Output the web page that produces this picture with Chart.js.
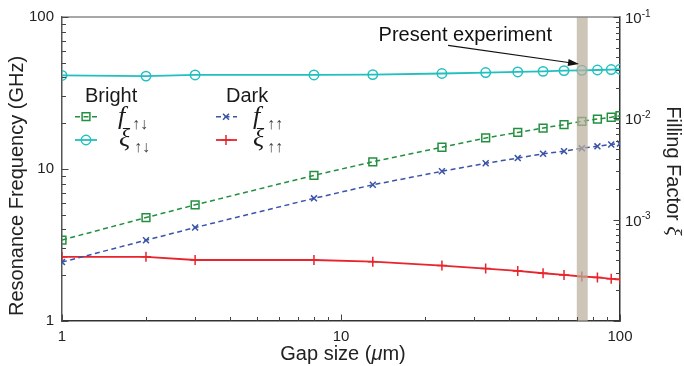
<!DOCTYPE html>
<html><head><meta charset="utf-8">
<script src="https://cdn.jsdelivr.net/npm/chart.js@4.4.1/dist/chart.umd.min.js"></script>
<style>html,body{margin:0;padding:0;background:#fff;}canvas{display:block;}</style>
</head><body>
<canvas id="c" width="684" height="366"></canvas>
<script>
// ---- data ----
const gapSizes = [1, 2, 3, 8, 13, 23, 33, 43, 53, 63, 73, 83, 93, 100];
const fBright  = [3.41, 4.79, 5.81, 9.08, 11.15, 13.9, 16.0, 17.4, 18.6, 19.6, 20.6, 21.3, 21.9, 22.4];
const fDark    = [2.44, 3.40, 4.12, 6.41, 7.87, 9.66, 10.9, 11.8, 12.6, 13.1, 13.7, 14.1, 14.5, 14.7];
const xiBright = [0.0265, 0.0261, 0.0268, 0.0268, 0.0270, 0.0277, 0.0283, 0.0287, 0.0291, 0.0296, 0.0298, 0.0300, 0.0303, 0.0305];
const xiDark   = [4.30e-4, 4.30e-4, 4.00e-4, 4.00e-4, 3.85e-4, 3.52e-4, 3.29e-4, 3.12e-4, 2.96e-4, 2.85e-4, 2.75e-4, 2.69e-4, 2.61e-4, 2.57e-4];
const xTickValues = [1, 10, 100];
const yLeftTickValues = [1, 10, 100];
const yRightTickValues = [1e-1, 1e-2, 1e-3];
const yRightTickExponents = ['-1', '-2', '-3'];
const presentRange = [70, 76.6];

const COL = {green:'#23903f', blue:'#3a54a8', cyan:'#22bfc0', red:'#e8242c'};
const SANS = '"Liberation Sans", Arial, sans-serif';
const SERIF = '"Liberation Serif", "Times New Roman", serif';

function pts(vals){ return gapSizes.map((g,i)=>({x:g, y:vals[i]})); }

function logMarks(min, max){
  const out=[];
  for(let d=Math.floor(Math.log10(min)); d<=Math.ceil(Math.log10(max)); d++){
    for(let m=1;m<10;m++){
      const v=m*Math.pow(10,d);
      if(v>=min*0.9999 && v<=max*1.0001) out.push({v, major:m===1});
    }
  }
  return out;
}

function marker(ctx, style, x, y, r, color, bw){
  ctx.save();
  ctx.strokeStyle=color; ctx.fillStyle='rgba(0,0,0,0)'; ctx.lineWidth=bw; ctx.setLineDash([]);
  Chart.helpers.drawPoint(ctx, {pointStyle:style, radius:r, borderWidth:bw, rotation:0}, x, y);
  ctx.restore();
}
function seg(ctx, x1, x2, y, color, w, dash){
  ctx.save(); ctx.strokeStyle=color; ctx.lineWidth=w; ctx.setLineDash(dash||[]);
  ctx.beginPath(); ctx.moveTo(x1,y); ctx.lineTo(x2,y); ctx.stroke(); ctx.restore();
}

const bandPlugin = {
  id:'band',
  afterDatasetsDraw(chart){
    const {ctx, chartArea:a, scales:{x}} = chart;
    const x1 = x.getPixelForValue(presentRange[0]), x2 = x.getPixelForValue(presentRange[1]);
    ctx.save(); ctx.fillStyle='rgba(184,174,156,0.72)';
    ctx.fillRect(x1, a.top, x2-x1, a.bottom-a.top); ctx.restore();
  }
};

const decorPlugin = {
  id:'decor',
  afterDraw(chart){
    const {ctx, chartArea:a, scales:{x, y, y2}} = chart;
    ctx.save();
    // top frame line
    ctx.strokeStyle='#8a8a8a'; ctx.lineWidth=1.3;
    ctx.beginPath(); ctx.moveTo(a.left, a.top); ctx.lineTo(a.right, a.top); ctx.stroke();
    // inward ticks
    ctx.strokeStyle='#444'; ctx.lineWidth=1;
    logMarks(1,100).forEach(t=>{
      const px=Math.round(x.getPixelForValue(t.v))+0.5, L=t.major?6.5:4;
      ctx.beginPath(); ctx.moveTo(px, a.bottom); ctx.lineTo(px, a.bottom-L); ctx.stroke();
    });
    logMarks(1,100).forEach(t=>{
      const py=Math.round(y.getPixelForValue(t.v))+0.5, L=t.major?6.5:4;
      ctx.beginPath(); ctx.moveTo(a.left, py); ctx.lineTo(a.left+L, py); ctx.stroke();
    });
    logMarks(1e-4,1e-1).forEach(t=>{
      const py=Math.round(y2.getPixelForValue(t.v))+0.5, L=t.major?6.5:4;
      ctx.beginPath(); ctx.moveTo(a.right, py); ctx.lineTo(a.right-L, py); ctx.stroke();
    });
    // right tick labels 10^n
    ctx.fillStyle='#222'; ctx.textBaseline='middle'; ctx.textAlign='left';
    yRightTickValues.forEach((v,i)=>{
      const py=y2.getPixelForValue(v)+2;
      ctx.font='15px '+SANS; ctx.fillText('10', a.right+5, py);
      const w=ctx.measureText('10').width;
      ctx.font='10px '+SANS; ctx.fillText(yRightTickExponents[i], a.right+5+w, py-5);
    });
    // axis titles
    ctx.textBaseline='alphabetic';
    const parts=[['Gap size (', '20px '+SANS],['\u03bc','italic 20px '+SANS],['m)','20px '+SANS]];
    let tw=0; parts.forEach(p=>{ctx.font=p[1]; tw+=ctx.measureText(p[0]).width;});
    let cx=(a.left+a.right)/2 - tw/2 + 2;
    parts.forEach(p=>{ctx.font=p[1]; ctx.fillText(p[0], cx, 360); cx+=ctx.measureText(p[0]).width;});
    ctx.save(); ctx.translate(23, 186); ctx.rotate(-Math.PI/2);
    ctx.font='20px '+SANS; ctx.textAlign='center'; ctx.fillText('Resonance Frequency (GHz)', 0, 0);
    ctx.restore();
    ctx.save(); ctx.translate(666.5, 171); ctx.rotate(Math.PI/2);
    ctx.font='20px '+SANS; const t1='Filling Factor '; const w1=ctx.measureText(t1).width;
    ctx.font='italic 22px '+SERIF; const w2=ctx.measureText('\u03be').width;
    ctx.textAlign='left';
    ctx.font='20px '+SANS; ctx.fillText(t1, -(w1+w2)/2, 0);
    ctx.font='italic 22px '+SERIF; ctx.fillText('\u03be', -(w1+w2)/2+w1, 0);
    ctx.restore();

    // annotation
    ctx.font='20px '+SANS; ctx.textAlign='center'; ctx.fillStyle='#111';
    ctx.fillText('Present experiment', x.getPixelForValue(27.9), y.getPixelForValue(69.9));
    const sx=x.getPixelForValue(24.2), sy=y.getPixelForValue(65.1);
    const tx=x.getPixelForValue(71.3), ty=y.getPixelForValue(49.0);
    const ang=Math.atan2(ty-sy, tx-sx);
    ctx.strokeStyle='#111'; ctx.lineWidth=1.1;
    ctx.beginPath(); ctx.moveTo(sx,sy); ctx.lineTo(tx-9*Math.cos(ang), ty-9*Math.sin(ang)); ctx.stroke();
    ctx.fillStyle='#111'; ctx.beginPath();
    ctx.moveTo(tx,ty);
    ctx.lineTo(tx-11*Math.cos(ang)+3.5*Math.sin(ang), ty-11*Math.sin(ang)-3.5*Math.cos(ang));
    ctx.lineTo(tx-11*Math.cos(ang)-3.5*Math.sin(ang), ty-11*Math.sin(ang)+3.5*Math.cos(ang));
    ctx.closePath(); ctx.fill();

    // legend
    ctx.textAlign='left'; ctx.fillStyle='#1a1a1a';
    ctx.font='20px '+SANS;
    ctx.fillText('Bright', 85, 101.5);
    ctx.fillText('Dark', 226, 101.5);
    seg(ctx, 75, 97, 116.7, COL.green, 1.5, [5,3.5]); marker(ctx,'rect',86,116.7,5.5,COL.green,1.5);
    seg(ctx, 75, 97, 140, COL.cyan, 1.8);            marker(ctx,'circle',86,140,4.7,COL.cyan,1.5);
    seg(ctx, 216, 237, 116.7, COL.blue, 1.5, [5,3.5]); marker(ctx,'crossRot',226,116.7,4.2,COL.blue,1.5);
    seg(ctx, 216, 237, 140, COL.red, 1.8);            marker(ctx,'cross',226,140,5,COL.red,1.5);
    ctx.fillStyle='#1a1a1a';
    ctx.font='italic 26px '+SERIF;
    ctx.fillText('f', 118, 124);
    ctx.fillText('\u03be', 119, 146);
    ctx.fillText('f', 253, 124);
    ctx.fillText('\u03be', 253, 146);
    ctx.fillStyle='#444'; ctx.font='16px '+SANS;
    ctx.fillText('\u2191\u2193', 132, 129);
    ctx.fillText('\u2191\u2193', 134, 152);
    ctx.fillText('\u2191\u2191', 267, 129);
    ctx.fillText('\u2191\u2191', 267, 152);
    ctx.restore();
  }
};

new Chart(document.getElementById('c'), {
  type:'line',
  data:{ datasets:[
    {label:'f_updown', data:pts(fBright), yAxisID:'y', borderColor:COL.green, borderWidth:1.5, borderDash:[5,3.5],
     pointStyle:'rect', pointRadius:5.5, pointBorderWidth:1.5, pointBorderColor:COL.green, pointBackgroundColor:'rgba(0,0,0,0)', tension:0},
    {label:'f_upup', data:pts(fDark), yAxisID:'y', borderColor:COL.blue, borderWidth:1.5, borderDash:[5,3.5],
     pointStyle:'crossRot', pointRadius:4.2, pointBorderWidth:1.5, pointBorderColor:COL.blue, pointBackgroundColor:'rgba(0,0,0,0)', tension:0},
    {label:'xi_updown', data:pts(xiBright), yAxisID:'y2', borderColor:COL.cyan, borderWidth:1.8,
     pointStyle:'circle', pointRadius:4.7, pointBorderWidth:1.5, pointBorderColor:COL.cyan, pointBackgroundColor:'rgba(0,0,0,0)', tension:0},
    {label:'xi_upup', data:pts(xiDark), yAxisID:'y2', borderColor:COL.red, borderWidth:1.8,
     pointStyle:'cross', pointRadius:5, pointBorderWidth:1.5, pointBorderColor:COL.red, pointBackgroundColor:'rgba(0,0,0,0)', tension:0}
  ]},
  options:{
    responsive:false, animation:false, devicePixelRatio:1,
    layout:{padding:{top:13, left:0, right:0, bottom:0}},
    plugins:{legend:{display:false}, tooltip:{enabled:false}},
    scales:{
      x:{type:'logarithmic', position:'bottom', min:1, max:100,
         grid:{display:false, drawTicks:false}, border:{display:true, color:'#333', width:1.5},
         ticks:{font:{family:SANS, size:15}, color:'#222', padding:7, maxRotation:0, autoSkip:false, callback:v=>String(v)},
         afterBuildTicks:s=>{ s.ticks = xTickValues.map(v=>({value:v})); },
         afterFit:s=>{ s.height=45; }},
      y:{type:'logarithmic', position:'left', min:1, max:100,
         grid:{display:false, drawTicks:false}, border:{display:true, color:'#555', width:1.5},
         ticks:{font:{family:SANS, size:15}, color:'#222', padding:8, autoSkip:false, callback:v=>String(v)},
         afterBuildTicks:s=>{ s.ticks = yLeftTickValues.map(v=>({value:v})); },
         afterFit:s=>{ s.width=62; }},
      y2:{type:'logarithmic', position:'right', min:1e-4, max:1e-1,
         grid:{display:false, drawTicks:false}, border:{display:true, color:'#333', width:1.5},
         ticks:{display:false},
         afterBuildTicks:s=>{ s.ticks = yRightTickValues.map(v=>({value:v})); },
         afterFit:s=>{ s.width=64; }}
    }
  },
  plugins:[bandPlugin, decorPlugin]
});
</script>
</body></html>
